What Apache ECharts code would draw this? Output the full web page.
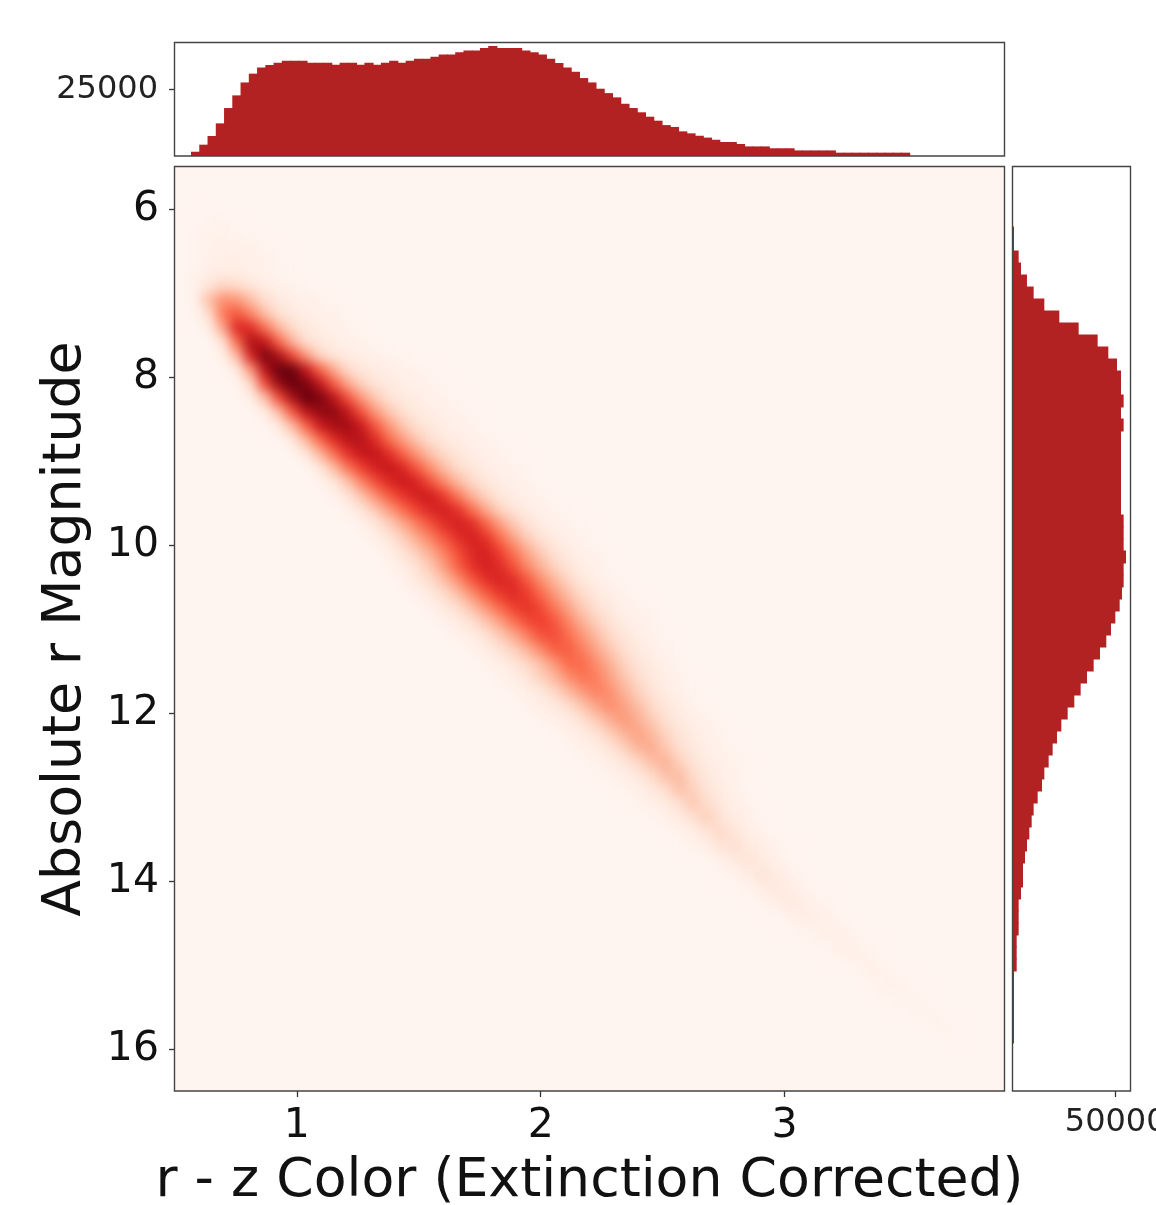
<!DOCTYPE html>
<html>
<head>
<meta charset="utf-8">
<script src="https://cdn.jsdelivr.net/npm/echarts@6/dist/echarts.min.js"></script>
<style>
html,body{margin:0;padding:0;background:#fff;overflow:hidden}
#wrap{position:relative;width:1156px;height:1205px}
#plotbg{position:absolute;left:175px;top:167px;width:829px;height:924px;background:#fff5f0}
#chart{position:absolute;left:0;top:0;width:1156px;height:1205px}
canvas[data-zr-dom-id="zr_0"]{filter:blur(6px);clip-path:inset(167px 152px 114px 175px)}
</style>
</head>
<body>
<div id="wrap"><div id="plotbg"></div><div id="chart"></div></div>
<script>
const xTitle = 'r - z Color (Extinction Corrected)';
const yTitle = 'Absolute r Magnitude';
const xTicks = [1, 2, 3];
const yTicks = [6, 8, 10, 12, 14, 16];
const topTicks = [25000];
const rightTicks = [50000];
const colorRange = [0.5, 3.9];
const magRange = [5.5, 16.5];

// top histogram: counts per colour bin, first bin starts at topBinStart
const topBinStart = 0.5676;
const topBinWidth = 0.03386;
const topCounts = [1600,4250,7500,12250,18000,22750,27600,30900,33250,34100,35000,35750,35750,35750,35000,35000,35000,34250,35000,35000,34250,35000,34250,35000,35750,35000,35750,36500,36500,37250,38100,38100,38900,39600,39600,40500,41250,40500,40500,40500,39600,38900,38100,36500,34900,33250,31600,29250,27600,25250,23600,22000,19600,18000,16400,14750,13250,11600,10900,9250,8500,7600,6900,6100,5250,5250,4500,3600,3600,3600,2900,2900,2900,2100,2100,2100,2100,2100,1250,1250,1250,1250,1250,1250,1250,1250,1250];

// right histogram: counts per magnitude bin (77 bins over the magnitude range)
const rightCounts = [0,0,0,0,0,490,490,2760,3900,6800,10060,15260,22560,31970,41220,46420,50640,52590,52590,53880,52590,53880,52590,52590,52590,52590,52590,52590,52590,53880,53880,53880,55020,53880,53880,53070,51940,49830,47720,45440,42360,39280,36030,32950,29860,26620,23530,21420,19310,17370,15260,14120,12010,10060,9090,7950,6820,5840,4870,4870,3900,2760,2760,2760,1790,1790,1790,490,490,490,490,490,490,0,0,0,0];

// density image: 60 colour columns, 66 magnitude rows; each entry [row, firstColumn, values...]
const densityRows = [
[3,2,1,1,1],
[4,1,1,2,2,1,1],
[5,1,1,2,3,2,2,1,1],
[6,1,1,3,4,4,3,2,1,1],
[7,1,2,4,5,5,3,2,1,1],
[8,1,3,10,16,14,9,5,3,2,1,1],
[9,1,3,24,38,36,24,13,7,4,3,2,1,1],
[10,1,1,14,46,55,42,24,12,7,4,3,2,1],
[11,2,4,32,70,68,48,27,14,8,5,3,2,1],
[12,3,12,50,85,78,52,28,12,8,5,3,2,1],
[13,3,3,25,72,96,86,60,36,16,9,6,4,3,2,1],
[14,4,6,36,80,105,100,76,52,30,14,9,6,4,3,2,1],
[15,4,2,14,58,90,106,96,78,54,32,17,10,7,4,3,2,1],
[16,5,4,22,58,86,100,96,80,57,36,20,11,7,4,3,2,1],
[17,6,5,24,55,80,91,92,78,57,36,21,12,7,5,3,2,1],
[18,7,6,25,52,74,87,88,75,55,36,21,12,8,5,3,2,1],
[19,8,7,26,50,68,80,82,69,50,34,21,13,8,5,3,2,1],
[20,9,8,26,48,66,76,78,68,52,36,23,14,9,5,3,2,1],
[21,10,8,24,46,62,72,76,70,55,38,24,14,9,5,3,2,1],
[22,10,2,8,22,42,58,69,75,71,57,40,25,15,9,5,3,2,1],
[23,11,3,9,22,38,54,65,72,74,63,45,28,16,9,5,3,2,1],
[24,12,3,9,20,34,49,61,70,73,66,49,31,17,10,6,3,2,1],
[25,13,3,8,18,30,44,57,68,72,68,52,34,20,11,6,3,2,1],
[26,14,4,9,18,30,43,56,67,72,66,50,33,19,11,6,3,2,1],
[27,15,4,11,19,30,44,58,69,72,62,47,31,19,11,6,3,2,1],
[28,15,2,5,11,21,35,53,66,72,68,57,40,27,16,9,5,3,1],
[29,16,3,7,14,24,38,55,66,71,67,55,38,26,15,8,4,2,1],
[30,17,3,7,14,24,38,53,64,69,63,50,35,23,14,8,4,2,1],
[31,18,3,7,13,23,36,50,61,66,59,46,32,20,12,7,3,2,1],
[32,19,3,6,12,21,33,47,58,62,55,42,28,18,10,6,3,2,1],
[33,20,3,5,11,19,30,43,56,58,49,37,25,15,9,5,2,1],
[34,21,2,5,10,17,27,40,53,53,44,32,21,13,7,4,2,1],
[35,22,2,4,9,15,24,36,50,50,40,28,17,10,6,3,1],
[36,23,2,4,9,17,26,38,47,44,33,22,14,8,4,2,1],
[37,24,2,4,8,15,25,35,43,38,28,18,11,6,3,1],
[38,25,2,4,7,13,22,32,39,33,24,15,9,5,2,1],
[39,26,2,3,6,12,20,29,36,29,20,12,7,4,2,1],
[40,27,1,3,6,11,18,27,33,26,17,10,6,3,2,1],
[41,28,1,3,5,10,17,27,30,21,13,8,4,2,1],
[42,29,1,2,4,9,15,24,28,18,11,6,3,2,1],
[43,30,1,2,4,8,14,23,25,14,8,4,2,1],
[44,32,2,3,7,13,23,18,10,6,3,1],
[45,33,2,3,6,12,21,14,8,4,2,1],
[46,34,1,3,6,12,18,11,6,3,1],
[47,35,1,2,5,10,15,9,5,2,1],
[48,36,1,2,4,10,13,7,4,2,1],
[49,38,1,3,7,11,6,3,1],
[50,39,1,2,6,10,6,3,1],
[51,40,1,2,5,8,5,2,1],
[52,42,2,4,7,4,2,1],
[53,43,1,3,5,4,2,1],
[54,44,1,2,3,4,2,1],
[55,46,1,2,4,2,1],
[56,47,1,2,3,2,1],
[57,49,1,3,2,1],
[58,50,1,3,2,1],
[59,51,1,2,2,1],
[60,53,1,2,1],
[61,54,1,1.5,1],
[62,55,0.5,1,0.5],
[63,57,0.5]
];
const densityColumns = 60;
const densityRowCount = 66;

const redsPalette = ['#fff5f0','#fee0d2','#fcbba1','#fc9272','#fb6a4a','#ef3b2c','#cb181d','#a50f15','#67000d'];

const heatData = [];
densityRows.forEach(function (r) {
  for (let i = 2; i < r.length; i++) heatData.push([r[1] + i - 2, r[0], r[i]]);
});
const topData = topCounts.map(function (c, i) { return [topBinStart + topBinWidth * (i + 0.5), c]; });
const idx = function (n) { return Array.from({length: n}, function (_, i) { return String(i); }); };
const plain = function (v) { return String(v); };

const font = 'DejaVu Sans';
const textColor = '#111';
const tick = {show: true, length: 6, lineStyle: {color: '#333', width: 1.3}};
const FG = 1;
const gridBase = {outerBoundsMode: 'none', containLabel: false};

const chart = echarts.init(document.getElementById('chart'), null, {renderer: 'canvas'});
chart.setOption({
  animation: false,
  grid: [
    Object.assign({left: 175, top: 167, width: 829, height: 924, zlevel: 0}, gridBase),
    Object.assign({left: 175, top: 167, width: 829, height: 924, zlevel: FG}, gridBase),
    Object.assign({left: 175, top: 43, width: 829, height: 113, zlevel: FG}, gridBase),
    Object.assign({left: 1013, top: 167, width: 118, height: 924, zlevel: FG}, gridBase)
  ],
  xAxis: [
    {gridIndex: 0, type: 'category', data: idx(densityColumns), show: false, zlevel: 0},
    {gridIndex: 1, type: 'value', min: colorRange[0], max: colorRange[1], zlevel: FG,
      name: xTitle, nameLocation: 'middle', nameGap: 64,
      nameTextStyle: {fontFamily: font, fontSize: 53.7, color: textColor},
      axisLine: {show: false}, splitLine: {show: false},
      axisTick: Object.assign({customValues: xTicks}, tick),
      axisLabel: {customValues: xTicks, formatter: plain, fontFamily: font, fontSize: 41, color: textColor, margin: 15}},
    {gridIndex: 2, type: 'value', min: colorRange[0], max: colorRange[1], show: false, zlevel: FG, splitLine: {show: false}},
    {gridIndex: 3, type: 'value', min: 0, max: 57460, zlevel: FG,
      axisLine: {show: false}, splitLine: {show: false},
      axisTick: Object.assign({customValues: rightTicks}, tick),
      axisLabel: {customValues: rightTicks, formatter: plain, fontFamily: font, fontSize: 32, color: '#222', margin: 16}}
  ],
  yAxis: [
    {gridIndex: 0, type: 'category', data: idx(densityRowCount), inverse: true, show: false, zlevel: 0},
    {gridIndex: 1, type: 'value', min: magRange[0], max: magRange[1], inverse: true, zlevel: FG,
      name: yTitle, nameLocation: 'middle', nameGap: 82, nameRotate: 90,
      nameTextStyle: {fontFamily: font, fontSize: 53.7, color: textColor},
      axisLine: {show: false}, splitLine: {show: false},
      axisTick: Object.assign({customValues: yTicks}, tick),
      axisLabel: {customValues: yTicks, formatter: plain, fontFamily: font, fontSize: 41, color: textColor, margin: 16, padding: [8, 0, 0, 0]}},
    {gridIndex: 2, type: 'value', min: 0, max: 42400, zlevel: FG,
      axisLine: {show: false}, splitLine: {show: false},
      axisTick: Object.assign({customValues: topTicks}, tick),
      axisLabel: {customValues: topTicks, formatter: plain, fontFamily: font, fontSize: 32, color: '#222', margin: 17, padding: [10, 0, 0, 0]}},
    {gridIndex: 3, type: 'category', data: idx(rightCounts.length), inverse: true, show: false, zlevel: FG}
  ],
  visualMap: {show: false, type: 'continuous', seriesIndex: 0, min: 0, max: 100, inRange: {color: redsPalette}},
  series: [
    {type: 'heatmap', xAxisIndex: 0, yAxisIndex: 0, data: heatData, zlevel: 0, progressive: 0},
    {type: 'bar', xAxisIndex: 2, yAxisIndex: 2, data: topData, barWidth: 9.2, zlevel: FG, itemStyle: {color: '#b22222'}},
    {type: 'bar', xAxisIndex: 3, yAxisIndex: 3, data: rightCounts, barWidth: 13, zlevel: FG, itemStyle: {color: '#b22222'}}
  ],
  graphic: [
    {type: 'rect', zlevel: FG, z: 100, shape: {x: 174.5, y: 42.5, width: 830, height: 113.5}, style: {fill: null, stroke: '#444', lineWidth: 1.4}},
    {type: 'rect', zlevel: FG, z: 100, shape: {x: 174.5, y: 166.5, width: 830, height: 924.5}, style: {fill: null, stroke: '#444', lineWidth: 1.4}},
    {type: 'rect', zlevel: FG, z: 100, shape: {x: 1012.5, y: 166.5, width: 118, height: 924.5}, style: {fill: null, stroke: '#444', lineWidth: 1.4}}
  ]
});
</script>
</body>
</html>
